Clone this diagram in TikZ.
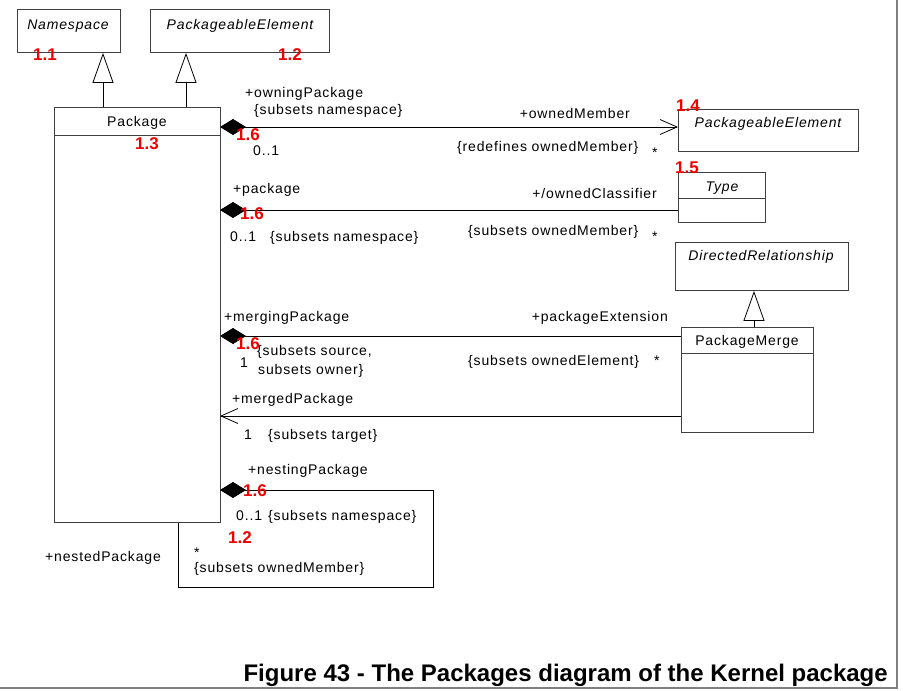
\documentclass[tikz,border=0pt]{standalone}
\usepackage{fontspec}
\setmainfont{Liberation Sans}
\usetikzlibrary{arrows.meta}
\definecolor{lc}{HTML}{404040}
\definecolor{redlab}{HTML}{F00000}
\newfontfamily\lblfont[LetterSpace=6]{Liberation Sans}
\begin{document}
\begin{tikzpicture}[x=1pt,y=-1pt,
  box/.style={draw=lc,line width=0.9pt,anchor=north west,inner sep=0pt},
  lbl/.style={inner sep=0pt,font=\fontsize{14}{16}\lblfont},
  ital/.style={inner sep=0pt,font=\fontsize{14}{16}\lblfont\itshape},
  num/.style={inner sep=0pt,text=redlab,font=\fontsize{17}{19}\selectfont\bfseries},
  conn/.style={draw=black,line width=0.8pt},
  comp/.style={{Diamond[length=26pt,width=16pt]}-},
  compnav/.style={{Diamond[length=26pt,width=16pt]}-{Straight Barb[length=17pt,width=15pt,line width=0.8pt]}},
  nav/.style={-{Straight Barb[length=17pt,width=15pt,line width=0.8pt]}},
  gen/.style={-{Triangle[open,length=30pt,width=21pt,fill=white,line width=0.8pt]}}]
\useasboundingbox (0,0) rectangle (903,691);
\fill[white] (0,0) rectangle (903,691);
% frame shadow
\draw[gray,line width=2pt] (897,0) -- (897,688) -- (0,688);

% boxes
\node[box,minimum width=103pt,minimum height=43pt] (ns) at (17,9) {};
\node[box,minimum width=179pt,minimum height=43pt] (pe1) at (150,9) {};
\node[box,minimum width=166pt,minimum height=415pt] (pkg) at (54,107) {};
\node[box,minimum width=180pt,minimum height=42pt] (pe2) at (678,109) {};
\node[box,minimum width=87pt,minimum height=50pt] (type) at (678,172) {};
\node[box,minimum width=173pt,minimum height=48pt] (dr) at (675,242) {};
\node[box,minimum width=132pt,minimum height=105pt] (pm) at (681,327) {};
\draw[lc,line width=0.9pt] ([yshift=-28pt]pkg.north west) -- ([yshift=-28pt]pkg.north east);
\draw[lc,line width=0.9pt] ([yshift=-26pt]type.north west) -- ([yshift=-26pt]type.north east);
\draw[lc,line width=0.9pt] ([yshift=-26pt]pm.north west) -- ([yshift=-26pt]pm.north east);

% box titles
\node[ital,anchor=base] (tns) at (68,29) {Namespace};
\node[ital,anchor=base] (tpe1) at (240,29) {PackageableElement};
\node[lbl,anchor=base] (tpkg) at (137,126) {Package};
\node[ital,anchor=base] (tpe2) at (768,127) {PackageableElement};
\node[ital,anchor=base] (ttype) at (722,191) {Type};
\node[ital,anchor=base] (tdr) at (761,260) {DirectedRelationship};
\node[lbl,anchor=base] (tpm) at (747,345) {PackageMerge};

% generalizations
\coordinate (g1) at (103,107);
\coordinate (g2) at (186,107);
\coordinate (g3) at (754,327);
\draw[conn,gen] (g1) -- (g1 |- ns.south);
\draw[conn,gen] (g2) -- (g2 |- pe1.south);
\draw[conn,gen] (g3) -- (g3 |- dr.south);

% associations
\coordinate (a1) at (220,127);
\coordinate (a2) at (220,210);
\coordinate (a3) at (220,336);
\coordinate (a4) at (220,416);
\coordinate (a5) at (220,490);
\draw[conn,compnav] (a1) -- (a1 -| pe2.west);
\draw[conn,comp] (a2) -- (a2 -| type.west);
\draw[conn,comp] (a3) -- (a3 -| pm.west);
\draw[conn,nav] (a4 -| pm.west) -- (a4);
\coordinate (s1) at (433,490);
\coordinate (s2) at (433,587);
\coordinate (s3) at (178,587);
\draw[conn,comp] (a5) -- (s1) -- (s2) -- (s3) -- (s3 |- pkg.south);

% association labels
\node[lbl,anchor=base west] (l1) at (245,97) {+owningPackage};
\node[lbl,anchor=base west] (l2) at (254,114) {\{subsets namespace\}};
\node[lbl,anchor=base west] (l3) at (253,155) {0..1};
\node[lbl,anchor=base east] (l4) at (630,118) {+ownedMember};
\node[lbl,anchor=base west] (l5) at (457,151) {\{redefines ownedMember\}};
\node[lbl,anchor=base west] (l6) at (652,157) {*};

\node[lbl,anchor=base west] (l7) at (233,193) {+package};
\node[lbl,anchor=base west] (l8) at (230,241) {0..1};
\node[lbl,anchor=base west] (l9) at (270,241) {\{subsets namespace\}};
\node[lbl,anchor=base east] (l10) at (657,198) {+/ownedClassifier};
\node[lbl,anchor=base west] (l11) at (468,235) {\{subsets ownedMember\}};
\node[lbl,anchor=base west] (l12) at (652,241) {*};

\node[lbl,anchor=base west] (l13) at (224,321) {+mergingPackage};
\node[lbl,anchor=base east] (l14) at (668,321) {+packageExtension};
\node[lbl,anchor=base west] (l15) at (240,367) {1};
\node[lbl,anchor=base west] (l16) at (257,355) {\{subsets source,};
\node[lbl,anchor=base west] (l17) at (258,374) {subsets owner\}};
\node[lbl,anchor=base west] (l18) at (468,365) {\{subsets ownedElement\}};
\node[lbl,anchor=base west] (l19) at (654,365) {*};

\node[lbl,anchor=base west] (l20) at (232,403) {+mergedPackage};
\node[lbl,anchor=base west] (l21) at (244,439) {1};
\node[lbl,anchor=base west] (l22) at (268,439) {\{subsets target\}};

\node[lbl,anchor=base west] (l23) at (248,474) {+nestingPackage};
\node[lbl,anchor=base west] (l24) at (236,520) {0..1};
\node[lbl,anchor=base west] (l25) at (268,520) {\{subsets namespace\}};
\node[lbl,anchor=base west] (l26) at (194,557) {*};
\node[lbl,anchor=base west] (l27) at (194,572) {\{subsets ownedMember\}};
\node[lbl,anchor=base west] (l28) at (45,561) {+nestedPackage};

% red numbers
\node[num,anchor=base west] (n11) at (33,60) {1.1};
\node[num,anchor=base west] (n12) at (278,60) {1.2};
\node[num,anchor=base west] (n13) at (135,149) {1.3};
\node[num,anchor=base west] (n14) at (676,111) {1.4};
\node[num,anchor=base west] (n15) at (675,173) {1.5};
\node[num,anchor=base west] (n16a) at (236,140) {1.6};
\node[num,anchor=base west] (n16b) at (240,219) {1.6};
\node[num,anchor=base west] (n16c) at (236,349) {1.6};
\node[num,anchor=base west] (n16d) at (243,496) {1.6};
\node[num,anchor=base west] (n12b) at (228,543) {1.2};

% title
\node[inner sep=0pt,anchor=base east,font=\fontsize{24}{28}\selectfont\bfseries] (title) at (888,681) {Figure 43 - The Packages diagram of the Kernel package};
\end{tikzpicture}
\end{document}
